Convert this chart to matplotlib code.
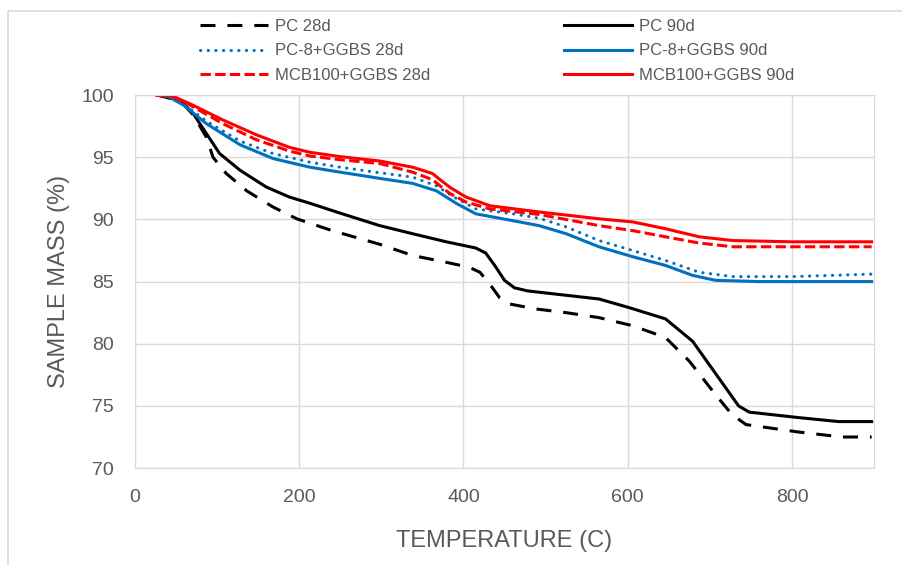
import matplotlib
matplotlib.use('Agg')
import matplotlib.pyplot as plt
from matplotlib.patches import Rectangle

plt.rcParams['font.family'] = ['Liberation Sans', 'DejaVu Sans']

GRAY = '#595959'
GRID = '#d9d9d9'

# values
pc28_t = [27, 45, 60, 71, 87, 95, 111, 136, 168, 197, 240, 298, 338, 379, 407, 420, 432, 444, 456, 488,
          525, 565, 606, 646, 675, 707, 727, 744, 808, 861, 897]
pc28_m = [100, 99.7, 99.2, 98.4, 96.6, 95.0, 93.7, 92.3, 91.0, 90.05, 89.1, 88.0, 87.1, 86.55, 86.15, 85.75, 84.8, 83.7, 83.2, 82.8,
          82.5, 82.1, 81.45, 80.5, 78.6, 75.9, 74.3, 73.5, 72.9, 72.5, 72.5]

pc90_t = [27, 40, 55, 71, 87, 103, 128, 160, 188, 213, 250, 298, 338, 379, 415, 427, 438, 450, 462, 478,
          565, 602, 646, 679, 707, 735, 748, 808, 857, 897]
pc90_m = [100, 99.9, 99.6, 98.5, 96.9, 95.3, 93.95, 92.6, 91.8, 91.3, 90.5, 89.5, 88.85, 88.2, 87.7, 87.3, 86.3, 85.1, 84.5, 84.25,
          83.6, 82.9, 82.0, 80.2, 77.6, 75.0, 74.5, 74.06, 73.74, 73.74]

pc8_28_t = [27, 40, 59, 87, 128, 168, 213, 250, 298, 338, 367, 391, 415, 460, 492, 525, 565, 606, 646, 687, 728, 800, 897]
pc8_28_m = [100, 99.9, 99.3, 97.9, 96.3, 95.3, 94.6, 94.2, 93.75, 93.4, 92.7, 91.7, 90.85, 90.45, 90.1, 89.4, 88.3, 87.5, 86.7, 85.75, 85.4, 85.4, 85.6]

pc8_90_t = [27, 40, 59, 87, 128, 168, 213, 250, 298, 338, 367, 391, 415, 460, 492, 525, 565, 606, 646, 679, 707, 760, 897]
pc8_90_m = [100, 99.9, 99.2, 97.7, 96.0, 94.9, 94.2, 93.8, 93.3, 92.9, 92.3, 91.3, 90.45, 89.9, 89.5, 88.85, 87.8, 87.0, 86.3, 85.5, 85.1, 85.0, 85.0]

mcb28_t = [27, 45, 67, 107, 148, 188, 213, 250, 298, 338, 362, 383, 403, 432, 492, 565, 606, 646, 687, 728, 800, 897]
mcb28_m = [100, 99.9, 99.2, 97.7, 96.4, 95.5, 95.1, 94.8, 94.5, 93.8, 93.2, 92.1, 91.4, 90.85, 90.4, 89.5, 89.1, 88.6, 88.1, 87.8, 87.8, 87.8]

mcb90_t = [27, 45, 67, 107, 148, 188, 213, 250, 298, 338, 362, 383, 403, 432, 492, 565, 606, 646, 687, 728, 800, 897]
mcb90_m = [100, 99.95, 99.3, 98.0, 96.8, 95.8, 95.4, 95.05, 94.7, 94.2, 93.7, 92.6, 91.8, 91.1, 90.6, 90.05, 89.8, 89.25, 88.6, 88.3, 88.2, 88.2]

x_ticks = [0, 200, 400, 600, 800]
y_ticks = [70, 75, 80, 85, 90, 95, 100]

fig = plt.figure(figsize=(9.03, 5.66), dpi=100)
ax = fig.add_axes([0.1495, 0.173, 0.8185, 0.659])

lw = 2.2
ax.plot(pc28_t, pc28_m, color='black', lw=lw, ls=(0, (4.9, 3.9)), label='PC 28d')
ax.plot(pc90_t, pc90_m, color='black', lw=lw, label='PC 90d')
ax.plot(pc8_28_t, pc8_28_m, color='#0070c0', lw=lw, ls=(0, (0.1, 2.4)), dash_capstyle='round', label='PC-8+GGBS 28d')
ax.plot(pc8_90_t, pc8_90_m, color='#0070c0', lw=lw, label='PC-8+GGBS 90d')
ax.plot(mcb28_t, mcb28_m, color='#ff0000', lw=lw, ls=(0, (3.4, 1.4)), label='MCB100+GGBS 28d')
ax.plot(mcb90_t, mcb90_m, color='#ff0000', lw=lw, label='MCB100+GGBS 90d')

ax.set_xlim(0, 900)
ax.set_ylim(70, 100)
ax.set_xticks(x_ticks)
ax.set_yticks(y_ticks)
ax.grid(True, color=GRID, lw=1)
ax.set_axisbelow(True)
for s in ax.spines.values():
    s.set_color(GRID)
ax.tick_params(length=0, labelsize=14, colors=GRAY, pad=15)
ax.set_xlabel('TEMPERATURE (C)', fontsize=17, color=GRAY, labelpad=17)
ax.set_ylabel('SAMPLE MASS (%)', fontsize=17, color=GRAY, labelpad=8)

# two legend columns, 28d on the left and 90d on the right
h, l = ax.get_legend_handles_labels()
for idx, xpos in [([0, 2, 4], 200 / 903), ([1, 3, 5], 564 / 903)]:
    leg = fig.legend([h[i] for i in idx], [l[i] for i in idx],
                     loc='upper left', bbox_to_anchor=(xpos, 0.967), frameon=False,
                     fontsize=12, handlelength=4.1, handletextpad=0.42,
                     labelspacing=0.58, borderpad=0, borderaxespad=0)
    for t in leg.get_texts():
        t.set_color(GRAY)

fig.patches.append(Rectangle((8 / 903, -0.02), 1.0, 0.02 + 1 - 11 / 566,
                             transform=fig.transFigure, fill=False,
                             edgecolor=GRID, lw=1.2))

fig.savefig('out.png', dpi=100)
